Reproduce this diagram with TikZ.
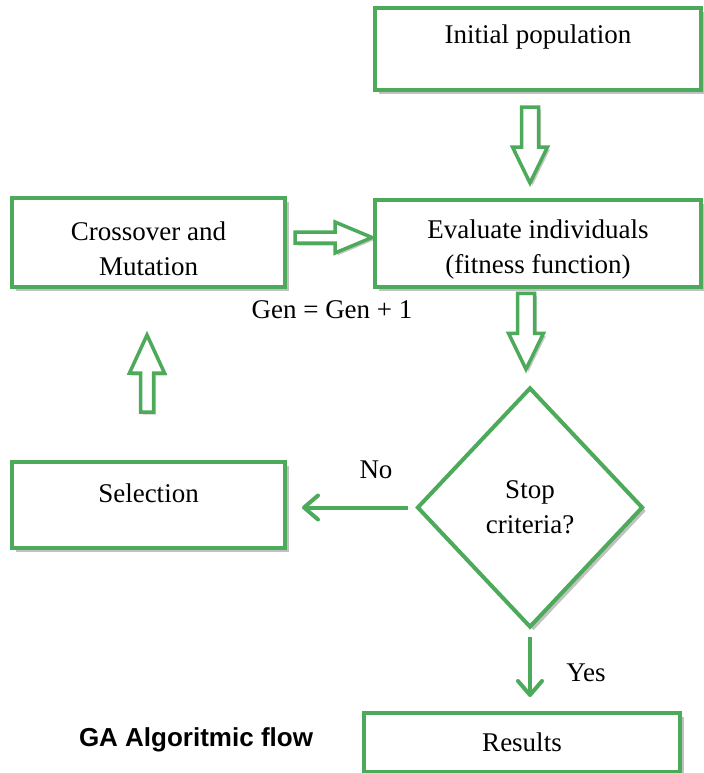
\documentclass[tikz,border=0pt]{standalone}
\usepackage{fontspec}
\setmainfont{Liberation Serif}
\newfontfamily\capfont{Liberation Sans}
\usetikzlibrary{shapes.geometric,arrows.meta,shadows,calc}
\definecolor{gagreen}{RGB}{76,170,90}
\newcommand\lowstrut{\rule{0pt}{31pt}}

\begin{document}
\begin{tikzpicture}[x=1pt,y=1pt,
  lbl/.style={font=\fontsize{27}{35}\selectfont},
  box/.style={lbl, draw=gagreen, line width=4pt, fill=white, align=center, inner sep=0pt,
    drop shadow={shadow xshift=3.5pt, shadow yshift=-3.5pt, opacity=0.35, fill=black!70}},
  decision/.style={box, diamond, minimum width=226pt, minimum height=240pt},
  hollow/.style={draw=gagreen, line width=3.5pt, fill=white,
    drop shadow={shadow xshift=2.5pt, shadow yshift=-2.5pt, opacity=0.3, fill=black!70}},
  link/.style={draw=gagreen, line width=4pt, -{Straight Barb[length=14pt,width=24pt,round]}},
  pics/fatarrow/.style n args={4}{code={
    \path[hollow] (-#1/2,-#2) -- (#1/2-#4,-#2) -- (#1/2-#4,-#3) -- (#1/2,0)
      -- (#1/2-#4,#3) -- (#1/2-#4,#2) -- (-#1/2,#2) -- cycle;}}
]
\useasboundingbox (0,0) rectangle (704,-774);

% boxes
\node[box, minimum width=326pt, minimum height=82pt, text height=19pt, text depth=31pt] (init) at (538,-49) {Initial population};
\node[box, minimum width=326pt, minimum height=87pt] (eval) at (538,-243.5) {\lowstrut Evaluate individuals\\(fitness function)};
\node[box, minimum width=273pt, minimum height=89pt] (cross) at (148.5,-242.5) {\lowstrut Crossover and\\Mutation};
\node[box, minimum width=273pt, minimum height=86pt, text height=19pt, text depth=25pt] (sel) at (148.5,-505) {Selection};
\node[decision] (stop) at (530,-507.5) {Stop\\criteria?};
\node[box, minimum width=316pt, minimum height=59pt] (res) at (522,-742.5) {Results};

% block arrows
\pic[rotate=-90] at ($(init.south)!.5!(eval.north)+(-8,0)$) {fatarrow={76}{8.5}{17.5}{36}};
\pic[rotate=-90] at ($(eval.south)!.5!(stop.north)+(-8,6)$) {fatarrow={76}{8.5}{17.5}{36}};
\pic[rotate=90] at ($(sel.north)!.5!(cross.south)+(-1.5,1)$) {fatarrow={77}{6.5}{17.5}{38}};
\pic at ($(cross.east)!.5!(eval.west)+(3.5,5.5)$) {fatarrow={77}{5.5}{15.5}{37}};

% decisions
\draw[link, shorten <=7pt, shorten >=15pt] (stop.west) -- (stop.west -| sel.east);
\draw[link, shorten <=7pt, shorten >=14pt] (stop.south) -- (res.north -| stop.south);

% labels
\node[lbl] (no) at (376,-470) {No};
\node[lbl] (yes) at (586,-673) {Yes};
\node[lbl] (gen) at (332,-310) {Gen = Gen + 1};
\node[font=\capfont\bfseries\fontsize{26}{30}\selectfont] (title) at (196,-740) {GA Algoritmic flow};

\draw[black!15, line width=1pt] (0,-773) -- (704,-773);
\end{tikzpicture}
\end{document}
